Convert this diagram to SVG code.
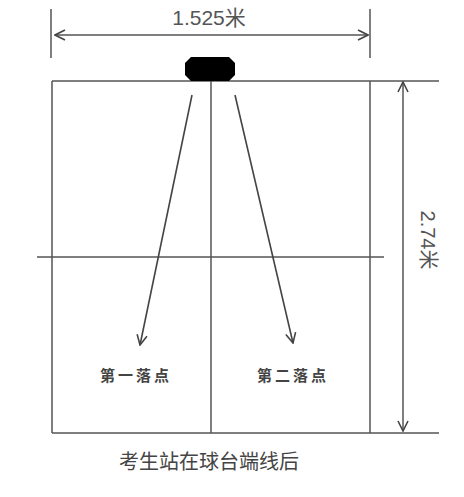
<svg xmlns="http://www.w3.org/2000/svg" width="464" height="497" viewBox="0 0 464 497">
<defs>
<style>
.ln{stroke:#555;stroke-width:1.5;fill:none}
.ar{stroke:#444;stroke-width:1.6;fill:none}
.t{font-family:"Liberation Sans","Noto Sans CJK SC",sans-serif;fill:#555}
.c{font-family:"Noto Sans CJK SC",sans-serif;fill:#444}
</style>
<marker id="ah" viewBox="0 0 12 12" refX="11" refY="6" markerWidth="12" markerHeight="12" markerUnits="userSpaceOnUse" orient="auto">
<path d="M1,1 L11,6 L1,11" stroke="#444" stroke-width="1.6" fill="none"/>
</marker>
</defs>
<rect width="464" height="497" fill="#fff"/>
<g id="table">
<path class="ln" d="M52,81 H439 M52,433 H439 M52,81 V433 M370,81 V433 M211,81 V433 M37,257 H384"/>
</g>
<g id="player">
<path d="M191,57 H229 L235,63 V75 L229,81 H191 L185,75 V63 Z" fill="#000"/>
</g>
<g id="dimension-width">
<path class="ln" d="M51,9 V58 M370,9 V58"/>
<text class="t" x="209" y="25" font-size="21" text-anchor="middle">1.525米</text>
</g>
<g id="dimension-length">
<text class="t" font-size="20" text-anchor="middle" transform="translate(421,240) rotate(90)">2.74米</text>
</g>
<g id="connectors">
<line class="ln" x1="210" y1="35" x2="55" y2="35" marker-end="url(#ah)"/>
<line class="ln" x1="210" y1="35" x2="368" y2="35" marker-end="url(#ah)"/>
<line class="ln" x1="403" y1="257" x2="403" y2="82" marker-end="url(#ah)"/>
<line class="ln" x1="403" y1="257" x2="403" y2="431" marker-end="url(#ah)"/>
<line class="ar" x1="192" y1="95" x2="140" y2="345" marker-end="url(#ah)"/>
<line class="ar" x1="235" y1="95" x2="293" y2="343" marker-end="url(#ah)"/>
</g>
<g id="label-1">
<text class="c" x="136" y="381" font-size="15" font-weight="bold" fill="#555" text-anchor="middle" letter-spacing="3">第一落点</text>
</g>
<g id="label-2">
<text class="c" x="293" y="381" font-size="15" font-weight="bold" fill="#555" text-anchor="middle" letter-spacing="3">第二落点</text>
</g>
<g id="caption">
<text class="c" x="209" y="469" font-size="20" text-anchor="middle">考生站在球台端线后</text>
</g>
</svg>
